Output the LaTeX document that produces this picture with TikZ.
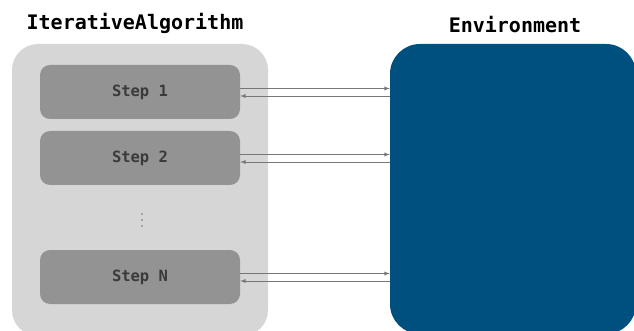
\documentclass[tikz,border=0pt]{standalone}
\usepackage{fontspec}
\setmonofont{DejaVu Sans Mono}
\usepackage{tikz}
\usetikzlibrary{positioning}
\definecolor{algback}{HTML}{D6D6D6}
\definecolor{stepgray}{HTML}{939393}
\definecolor{steptext}{HTML}{3A3A3A}
\definecolor{envblue}{HTML}{00507F}
\definecolor{arrowgray}{HTML}{777777}

\begin{document}
\begin{tikzpicture}[x=1pt,y=-1pt,>=latex,
    stepbox/.style={fill=stepgray,rounded corners=10pt,minimum width=200pt,minimum height=54pt,
        font=\ttfamily\bfseries\fontsize{15.5}{16}\selectfont,text=steptext,inner sep=0pt},
    title/.style={font=\ttfamily\bfseries\fontsize{20}{21}\selectfont,text=black},
    link/.style={->,arrowgray,line width=0.9pt}]
            \useasboundingbox (0,0) rectangle (634,331);
            \clip (0,0) rectangle (634,331);

            % draw the two panels
            \node[fill=algback,rounded corners=26pt,minimum width=256pt,minimum height=292pt,inner sep=0pt] (algo) at (140,190) {};
            \node[fill=envblue,rounded corners=30pt,minimum width=246pt,minimum height=290pt,inner sep=0pt] (env) at (513,189) {};

            % titles
            \node[title] (algotitle) at (135,23) {IterativeAlgorithm};
            \node[title] (envtitle) at (515,25) {Environment};

            % the steps
            \node[stepbox] (s1) at (140,92) {Step 1};
            \node[stepbox] (s2) at (140,158) {Step 2};
            \node[stepbox] (sn) at (140,277) {Step N};

            % dots between step 2 and step N
            \foreach \y in {214,220,226}
                \fill[stepgray] (142,\y) circle(1.1pt);

            % requests and replies
            \foreach \s in {s1,s2,sn} {
                \draw[link] ([yshift=3.5pt]\s.east) -- ([yshift=3.5pt]\s.east -| env.west);
                \draw[link] ([yshift=-4pt]\s.east -| env.west) -- ([yshift=-4pt]\s.east);
            }
        \end{tikzpicture}
\end{document}
